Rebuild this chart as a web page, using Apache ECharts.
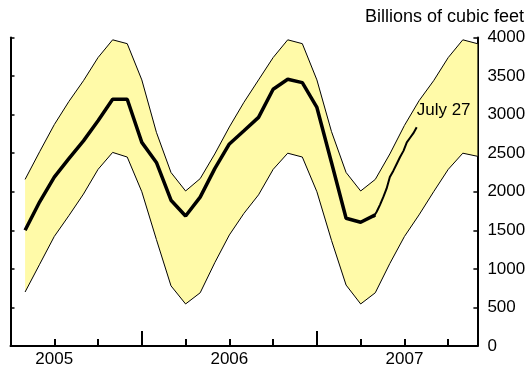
<!DOCTYPE html>
<html>
<head>
<meta charset="utf-8">
<script src="https://cdn.jsdelivr.net/npm/echarts@6.0.0/dist/echarts.min.js"></script>
<style>
  html, body { margin: 0; padding: 0; background: #fff; }
  #chart { width: 529px; height: 368px; }
</style>
</head>
<body>
<div id="chart"></div>
<script>
// range band (monthly, start of month)
const bandMonths = [
  '2005-05', '2005-06', '2005-07', '2005-08', '2005-09', '2005-10', '2005-11', '2005-12',
  '2006-01', '2006-02', '2006-03', '2006-04', '2006-05', '2006-06', '2006-07', '2006-08',
  '2006-09', '2006-10', '2006-11', '2006-12', '2007-01', '2007-02', '2007-03', '2007-04',
  '2007-05', '2007-06', '2007-07', '2007-08', '2007-09', '2007-10', '2007-11', '2007-12'
]
const bandHigh = [
  2160, 2520, 2870, 3170, 3440, 3740, 3970, 3920,
  3450, 2770, 2250, 2010, 2170, 2490, 2840, 3160,
  3450, 3740, 3970, 3920, 3450, 2780, 2250, 2010,
  2160, 2490, 2860, 3180, 3440, 3740, 3970, 3920
]
const bandLow = [
  700, 1060, 1420, 1690, 1970, 2290, 2510, 2450,
  2000, 1380, 780, 545, 690, 1080, 1440, 1720,
  1960, 2290, 2500, 2450, 2000, 1370, 790, 545,
  690, 1070, 1420, 1700, 2000, 2290, 2500, 2460
]

// storage, monthly (thick line)
const monthlyDates = bandMonths.slice(0, 25)
const monthlyStock = [
  1500, 1870, 2190, 2430, 2660, 2920, 3200, 3200,
  2640, 2380, 1890, 1686, 1930, 2300, 2620, 2790,
  2964, 3329, 3458, 3415, 3093, 2380, 1656, 1605, 1700
]

// storage, weekly (thin line)
const weeklyDates = [
  '2007-04-27', '2007-05-04', '2007-05-11', '2007-05-18', '2007-05-25',
  '2007-06-01', '2007-06-08', '2007-06-15', '2007-06-22', '2007-06-29',
  '2007-07-06', '2007-07-13', '2007-07-20', '2007-07-27'
]
const weeklyStock = [
  1670, 1740, 1830, 1930, 2040,
  2190, 2270, 2360, 2450, 2530,
  2640, 2700, 2760, 2835
]

const yearLabels = ['2005', '2006', '2007']
const yTicks = [0, 4000, 500]

// months since Jan 1 2005
function toMonth (d) {
  const p = d.split('-').map(Number)
  const day = p[2] || 1
  const dim = new Date(p[0], p[1], 0).getDate()
  return (p[0] - 2005) * 12 + (p[1] - 1) + (day - 1) / dim
}

const FONT = "'Liberation Sans', Arial, sans-serif"
const bandData = bandMonths.map((d, i) => [toMonth(d), bandHigh[i], bandLow[i]])
const monthlyData = monthlyDates.map((d, i) => [toMonth(d), monthlyStock[i]])
const weeklyData = weeklyDates.map((d, i) => [toMonth(d), weeklyStock[i]])

const chart = echarts.init(document.getElementById('chart'))

const xBase = {
  type: 'value',
  min: 3,
  max: 35,
  interval: 3,
  splitLine: { show: false }
}

chart.setOption({
  animation: false,
  title: {
    text: 'Billions of cubic feet',
    right: 5,
    top: 8,
    padding: 0,
    textStyle: { fontFamily: FONT, fontSize: 18, fontWeight: 'normal', color: '#000' }
  },
  grid: { left: 10.5, right: 51.6, top: 37.5, bottom: 19 },
  xAxis: [
    Object.assign({}, xBase, {
      axisLine: { lineStyle: { color: '#000', width: 2 } },
      axisTick: {
        inside: true,
        length: 7,
        lineStyle: { color: '#000', width: 2 },
        customValues: [6, 9, 15, 18, 21, 27, 30, 33]
      },
      axisLabel: {
        customValues: [6, 18, 30],
        formatter: v => yearLabels[(v - 6) / 12],
        margin: 5,
        fontFamily: FONT,
        fontSize: 17,
        color: '#000'
      }
    }),
    // tall year-boundary ticks
    Object.assign({}, xBase, {
      position: 'bottom',
      axisLine: { show: false },
      axisTick: {
        inside: true,
        length: 15,
        lineStyle: { color: '#000', width: 2 },
        customValues: [12, 24]
      },
      axisLabel: { show: false }
    })
  ],
  yAxis: [
    {
      type: 'value',
      position: 'right',
      min: yTicks[0],
      max: yTicks[1],
      interval: yTicks[2],
      splitLine: { show: false },
      axisLine: { show: true, lineStyle: { color: '#000', width: 2 } },
      axisTick: { show: true, inside: true, length: 4, lineStyle: { color: '#000', width: 1.5 } },
      axisLabel: {
        margin: 10,
        formatter: v => String(v),
        fontFamily: FONT,
        fontSize: 17,
        color: '#000'
      }
    },
    {
      type: 'value',
      position: 'left',
      min: yTicks[0],
      max: yTicks[1],
      interval: yTicks[2],
      splitLine: { show: false },
      axisLine: { show: true, lineStyle: { color: '#000', width: 2 } },
      axisTick: { show: true, inside: true, length: 4, lineStyle: { color: '#000', width: 1.5 } },
      axisLabel: { show: false }
    }
  ],
  series: [
    {
      type: 'custom',
      data: bandData,
      z: 1,
      renderItem (params, api) {
        if (params.dataIndex !== 0) return
        const top = bandData.map(r => api.coord([r[0], r[1]]))
        const bottom = bandData.map(r => api.coord([r[0], r[2]])).reverse()
        return {
          type: 'polygon',
          shape: { points: top.concat(bottom) },
          style: { fill: '#fffaa8' }
        }
      }
    },
    {
      type: 'line',
      data: bandData.map(r => [r[0], r[1]]),
      symbol: 'none',
      z: 2,
      lineStyle: { color: '#000', width: 1 }
    },
    {
      type: 'line',
      data: bandData.map(r => [r[0], r[2]]),
      symbol: 'none',
      z: 2,
      lineStyle: { color: '#000', width: 1 }
    },
    {
      type: 'line',
      data: monthlyData,
      symbol: 'none',
      z: 3,
      lineStyle: { color: '#000', width: 3.5 }
    },
    {
      type: 'line',
      data: weeklyData,
      symbol: 'none',
      z: 3,
      lineStyle: { color: '#000', width: 2 },
      endLabel: {
        show: true,
        formatter: 'July 27',
        distance: 0,
        offset: [0, -17],
        fontFamily: FONT,
        fontSize: 17,
        color: '#000'
      }
    }
  ]
})
</script>
</body>
</html>
